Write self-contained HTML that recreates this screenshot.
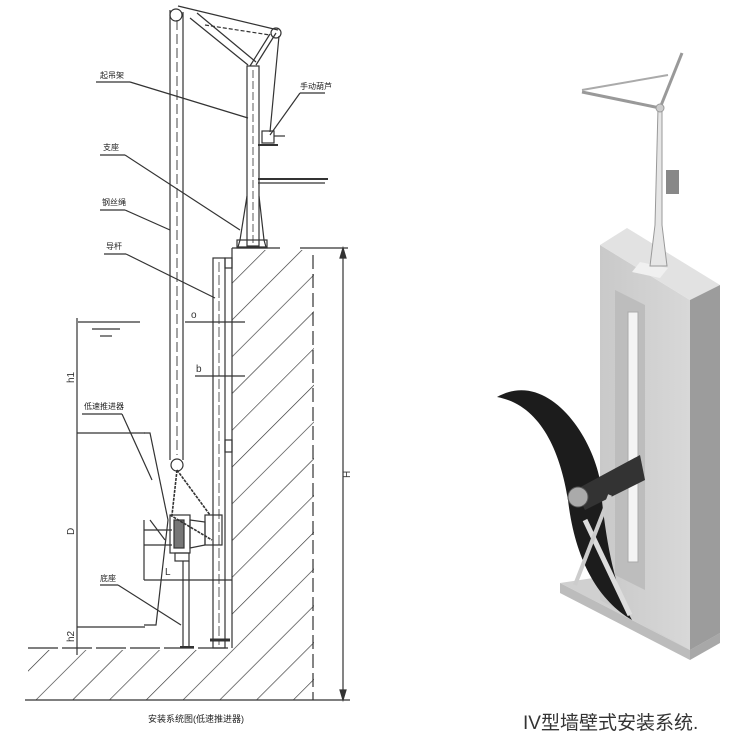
<!DOCTYPE html>
<html><head><meta charset="utf-8"><style>
html,body{margin:0;padding:0;background:#fff;}
svg{display:block;}
text{font-family:"Liberation Sans","Noto Sans CJK SC",sans-serif;}
</style></head><body>
<svg width="750" height="750" viewBox="0 0 750 750" xmlns="http://www.w3.org/2000/svg">
<defs>
<pattern id="h" patternUnits="userSpaceOnUse" width="26" height="26" patternTransform="rotate(45)">
<line x1="0" y1="0" x2="0" y2="26" stroke="#333" stroke-width="1.3"/>
</pattern>
<linearGradient id="fr" x1="0" x2="1"><stop offset="0" stop-color="#c9c9c9"/><stop offset="1" stop-color="#d8d8d8"/></linearGradient>
</defs>
<g stroke="#333" fill="none" stroke-width="1.2">
<rect x="232" y="250" width="82" height="450" fill="url(#h)" stroke="none"/>
<rect x="28" y="650" width="204" height="50" fill="url(#h)" stroke="none"/>
<line x1="232" y1="248" x2="232" y2="648"/>
<line x1="232" y1="248" x2="280" y2="248"/>
<line x1="300" y1="248" x2="348" y2="248"/>
<line x1="313" y1="255" x2="313" y2="700" stroke-dasharray="14,5"/>
<line x1="28" y1="648" x2="232" y2="648" stroke-dasharray="30,4"/>
<line x1="25" y1="700" x2="350" y2="700"/>
<line x1="343" y1="248" x2="343" y2="700"/>
<path d="M340 258 L343 248 L346 258Z" fill="#333"/>
<path d="M340 690 L343 700 L346 690Z" fill="#333"/>
<text x="350" y="478" font-size="10" fill="#333" stroke="none" transform="rotate(-90 350 478)">H</text>
<line x1="77" y1="318" x2="77" y2="655"/>
<line x1="77" y1="433" x2="145" y2="433"/>
<line x1="77" y1="627" x2="145" y2="627"/>
<line x1="78" y1="322" x2="140" y2="322"/>
<line x1="92" y1="329" x2="120" y2="329"/>
<line x1="100" y1="336" x2="112" y2="336"/>
<text x="74" y="383" font-size="10" fill="#333" stroke="none" transform="rotate(-90 74 383)">h1</text>
<text x="74" y="535" font-size="10" fill="#333" stroke="none" transform="rotate(-90 74 535)">D</text>
<text x="74" y="642" font-size="10" fill="#333" stroke="none" transform="rotate(-90 74 642)">h2</text>
<line x1="170" y1="10" x2="170" y2="460"/>
<line x1="183" y1="12" x2="183" y2="460"/>
<line x1="177" y1="20" x2="177" y2="455" stroke-dasharray="10,4" stroke-width="0.9"/>
<circle cx="176" cy="15" r="6"/>
<circle cx="177" cy="465" r="6"/>
<line x1="178" y1="6" x2="278" y2="30"/>
<line x1="190" y1="18" x2="248" y2="65"/>
<line x1="197" y1="13" x2="256" y2="62"/>
<line x1="205" y1="25" x2="270" y2="35" stroke-dasharray="4,2"/>
<line x1="256" y1="65" x2="276" y2="33"/>
<line x1="250" y1="66" x2="270" y2="34"/>
<circle cx="276" cy="33" r="5"/>
<line x1="279" y1="36" x2="270" y2="132"/>
<rect x="247" y="66" width="12" height="180"/>
<line x1="253" y1="70" x2="253" y2="245" stroke-dasharray="8,3" stroke-width="0.8"/>
<path d="M247 196 L240 240 L238 247 L266 247 L264 240 L259 196"/>
<rect x="237" y="240" width="30" height="8"/>
<rect x="262" y="131" width="12" height="12"/>
<line x1="258" y1="145" x2="278" y2="145" stroke-width="2"/>
<line x1="274" y1="136" x2="285" y2="136"/>
<line x1="258" y1="179" x2="328" y2="179" stroke-width="2"/>
<line x1="258" y1="183" x2="325" y2="183"/>
<rect x="213" y="258" width="12" height="390"/>
<line x1="219" y1="262" x2="219" y2="645" stroke-dasharray="10,3" stroke-width="0.8"/>
<rect x="225" y="258" width="7" height="10"/>
<rect x="225" y="440" width="7" height="12"/>
<line x1="185" y1="322" x2="245" y2="322"/>
<text x="191" y="318" font-size="10" fill="#333" stroke="none">o</text>
<line x1="195" y1="376" x2="245" y2="376"/>
<text x="196" y="372" font-size="10" fill="#333" stroke="none">b</text>
<path d="M144 433 L150 433 L168 520 L156 625 L144 625"/>
<line x1="144" y1="520" x2="144" y2="580"/>
<line x1="150" y1="520" x2="165" y2="540"/>
<line x1="144" y1="530" x2="172" y2="530"/>
<line x1="144" y1="545" x2="172" y2="545"/>
<rect x="170" y="515" width="20" height="38"/>
<rect x="174" y="520" width="10" height="28" fill="#777"/>
<path d="M190 520 L205 522 L205 545 L190 548Z"/>
<rect x="205" y="515" width="17" height="30"/>
<path d="M177 470 L172 515 M177 470 L210 515 M170 515 L212 540" stroke-dasharray="3,1" stroke-width="1.6"/>
<rect x="175" y="553" width="14" height="8"/>
<line x1="183" y1="561" x2="183" y2="648"/>
<line x1="189" y1="561" x2="189" y2="648"/>
<line x1="180" y1="647" x2="194" y2="647" stroke-width="2"/>
<line x1="210" y1="640" x2="230" y2="640" stroke-width="3"/>
<line x1="144" y1="580" x2="232" y2="580"/>
<text x="165" y="575" font-size="10" fill="#333" stroke="none">L</text>
<line x1="96" y1="82" x2="130" y2="82"/><line x1="130" y1="82" x2="248" y2="118"/>
<line x1="300" y1="93" x2="325" y2="93"/><line x1="300" y1="93" x2="270" y2="135"/>
<line x1="100" y1="155" x2="125" y2="155"/><line x1="125" y1="155" x2="240" y2="230"/>
<line x1="100" y1="210" x2="125" y2="210"/><line x1="125" y1="210" x2="170" y2="230"/>
<line x1="104" y1="254" x2="126" y2="254"/><line x1="126" y1="254" x2="215" y2="298"/>
<line x1="82" y1="414" x2="122" y2="414"/><line x1="122" y1="414" x2="152" y2="480"/>
<line x1="100" y1="585" x2="118" y2="585"/><line x1="118" y1="585" x2="181" y2="625"/>
</g>
<g font-size="8" fill="#222">
<text x="100" y="78">起吊架</text>
<text x="300" y="89">手动葫芦</text>
<text x="103" y="150">支座</text>
<text x="102" y="205">钢丝绳</text>
<text x="106" y="249">导杆</text>
<text x="84" y="409">低速推进器</text>
<text x="100" y="581">底座</text>
<text x="148" y="722" font-size="9">安装系统图(低速推进器)</text>
</g>
<g>
<polygon points="560,583 690,650 720,633 720,610 600,577 560,583" fill="#d0d0d0"/>
<polygon points="560,583 690,650 690,660 560,593" fill="#bcbcbc"/>
<polygon points="690,650 720,633 720,643 690,660" fill="#a8a8a8"/>
<polygon points="600,245 690,300 690,650 600,600" fill="url(#fr)"/>
<polygon points="600,245 627,228 720,285 690,300" fill="#e2e2e2"/>
<polygon points="690,300 720,285 720,633 690,650" fill="#9c9c9c"/>
<polygon points="615,290 645,305 645,590 615,575" fill="#bdbdbd"/>
<rect x="628" y="312" width="10" height="250" fill="#f4f4f4" stroke="#aaa"/>
<polygon points="640,262 668,268 660,278 632,272" fill="#f0f0f0"/>
<path d="M650 266 L655 225 L658 108 L662 108 L662 225 L667 266Z" fill="#e6e6e6" stroke="#999"/>
<line x1="582" y1="92" x2="660" y2="108" stroke="#999" stroke-width="3"/>
<line x1="582" y1="90" x2="668" y2="75" stroke="#aaa" stroke-width="2"/>
<line x1="682" y1="53" x2="660" y2="108" stroke="#999" stroke-width="3"/>
<circle cx="660" cy="108" r="4" fill="#ccc" stroke="#999"/>
<rect x="666" y="170" width="13" height="24" fill="#888"/>
<path d="M497 397 C545 370 590 430 600 480 C605 540 615 590 632 620 C598 600 575 560 568 500 C560 450 540 405 497 397Z" fill="#1c1c1c"/>
<polygon points="575,490 640,455 645,480 585,510" fill="#333"/>
<circle cx="578" cy="497" r="10" fill="#aaa" stroke="#555"/>
<line x1="585" y1="520" x2="630" y2="615" stroke="#ddd" stroke-width="5"/>
<line x1="610" y1="495" x2="575" y2="585" stroke="#ccc" stroke-width="4"/>
</g>
<text x="523" y="729" font-size="19" fill="#333" font-family="'Liberation Serif','Noto Serif CJK SC',serif">IV型墙壁式安装系统.</text>
</svg>
</body></html>
